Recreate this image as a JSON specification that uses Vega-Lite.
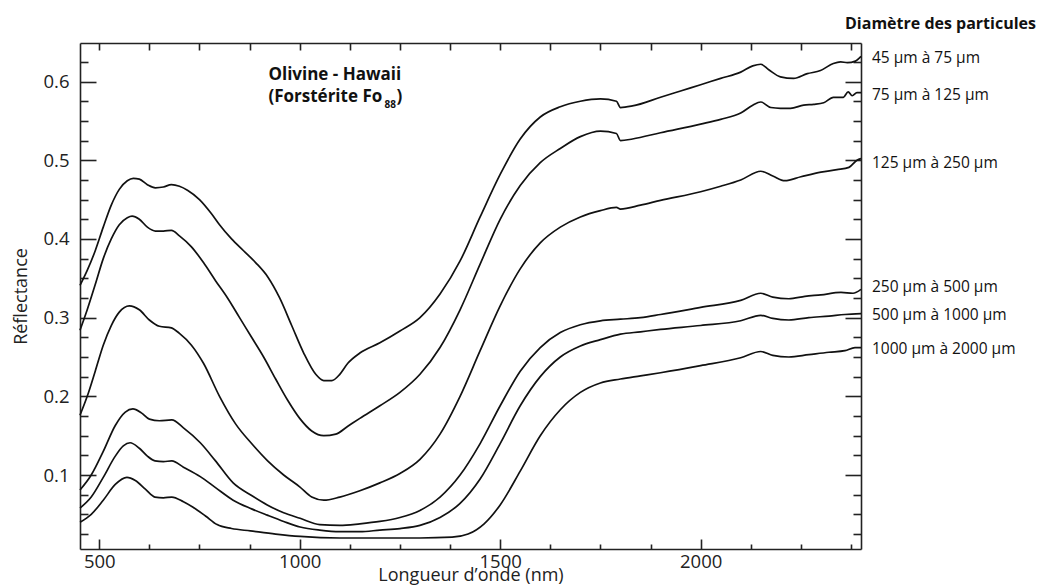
{
  "$schema": "https://vega.github.io/schema/vega-lite/v6.json",
  "autosize": "none",
  "width": 781,
  "height": 506,
  "padding": {"left": 80, "top": 43, "right": 180, "bottom": 39},
  "background": "white",
  "config": {
    "view": {"stroke": null},
    "font": "Open Sans",
    "axis": {"grid": false, "domainColor": "#222", "domainWidth": 1.6, "tickColor": "#222", "tickWidth": 1.6, "labelColor": "#222", "titleColor": "#222", "labelFont": "Open Sans", "titleFont": "Open Sans", "labelFontSize": 18.5, "titleFontSize": 18, "titleFontWeight": "normal"}
  },
  "datasets": {
    "spectra": [
      {"s":"A","nm":452,"r":0.341},{"s":"A","nm":470,"r":0.36},{"s":"A","nm":490,"r":0.385},{"s":"A","nm":510,"r":0.415},{"s":"A","nm":530,"r":0.443},{"s":"A","nm":550,"r":0.463},{"s":"A","nm":570,"r":0.474},{"s":"A","nm":585,"r":0.477},{"s":"A","nm":600,"r":0.476},{"s":"A","nm":620,"r":0.469},{"s":"A","nm":640,"r":0.465},{"s":"A","nm":660,"r":0.466},{"s":"A","nm":680,"r":0.469},{"s":"A","nm":700,"r":0.467},{"s":"A","nm":720,"r":0.462},{"s":"A","nm":750,"r":0.45},{"s":"A","nm":780,"r":0.432},{"s":"A","nm":800,"r":0.418},{"s":"A","nm":830,"r":0.4},{"s":"A","nm":860,"r":0.385},{"s":"A","nm":890,"r":0.37},{"s":"A","nm":920,"r":0.352},{"s":"A","nm":950,"r":0.325},{"s":"A","nm":980,"r":0.29},{"s":"A","nm":1010,"r":0.255},{"s":"A","nm":1040,"r":0.228},{"s":"A","nm":1060,"r":0.22},{"s":"A","nm":1080,"r":0.22},{"s":"A","nm":1100,"r":0.228},{"s":"A","nm":1120,"r":0.242},{"s":"A","nm":1150,"r":0.255},{"s":"A","nm":1200,"r":0.268},{"s":"A","nm":1250,"r":0.283},{"s":"A","nm":1300,"r":0.3},{"s":"A","nm":1350,"r":0.33},{"s":"A","nm":1400,"r":0.372},{"s":"A","nm":1450,"r":0.428},{"s":"A","nm":1500,"r":0.482},{"s":"A","nm":1550,"r":0.527},{"s":"A","nm":1600,"r":0.555},{"s":"A","nm":1650,"r":0.568},{"s":"A","nm":1700,"r":0.575},{"s":"A","nm":1750,"r":0.578},{"s":"A","nm":1790,"r":0.575},{"s":"A","nm":1800,"r":0.567},{"s":"A","nm":1830,"r":0.569},{"s":"A","nm":1900,"r":0.58},{"s":"A","nm":1950,"r":0.588},{"s":"A","nm":2000,"r":0.596},{"s":"A","nm":2050,"r":0.604},{"s":"A","nm":2100,"r":0.612},{"s":"A","nm":2130,"r":0.62},{"s":"A","nm":2150,"r":0.622},{"s":"A","nm":2170,"r":0.615},{"s":"A","nm":2199,"r":0.606},{"s":"A","nm":2232,"r":0.604},{"s":"A","nm":2266,"r":0.61},{"s":"A","nm":2299,"r":0.614},{"s":"A","nm":2331,"r":0.623},{"s":"A","nm":2349,"r":0.625},{"s":"A","nm":2366,"r":0.624},{"s":"A","nm":2386,"r":0.626},{"s":"A","nm":2400,"r":0.632},

      {"s":"B","nm":452,"r":0.284},{"s":"B","nm":470,"r":0.31},{"s":"B","nm":490,"r":0.342},{"s":"B","nm":510,"r":0.375},{"s":"B","nm":530,"r":0.4},{"s":"B","nm":550,"r":0.418},{"s":"B","nm":570,"r":0.427},{"s":"B","nm":582,"r":0.429},{"s":"B","nm":600,"r":0.425},{"s":"B","nm":620,"r":0.415},{"s":"B","nm":640,"r":0.41},{"s":"B","nm":660,"r":0.41},{"s":"B","nm":680,"r":0.411},{"s":"B","nm":700,"r":0.404},{"s":"B","nm":730,"r":0.39},{"s":"B","nm":760,"r":0.37},{"s":"B","nm":790,"r":0.347},{"s":"B","nm":820,"r":0.325},{"s":"B","nm":850,"r":0.3},{"s":"B","nm":880,"r":0.275},{"s":"B","nm":910,"r":0.25},{"s":"B","nm":940,"r":0.222},{"s":"B","nm":970,"r":0.195},{"s":"B","nm":1000,"r":0.172},{"s":"B","nm":1030,"r":0.156},{"s":"B","nm":1060,"r":0.15},{"s":"B","nm":1090,"r":0.152},{"s":"B","nm":1120,"r":0.162},{"s":"B","nm":1150,"r":0.172},{"s":"B","nm":1200,"r":0.188},{"s":"B","nm":1250,"r":0.205},{"s":"B","nm":1300,"r":0.228},{"s":"B","nm":1350,"r":0.262},{"s":"B","nm":1400,"r":0.31},{"s":"B","nm":1450,"r":0.368},{"s":"B","nm":1500,"r":0.425},{"s":"B","nm":1550,"r":0.468},{"s":"B","nm":1600,"r":0.497},{"s":"B","nm":1650,"r":0.515},{"s":"B","nm":1700,"r":0.53},{"s":"B","nm":1750,"r":0.537},{"s":"B","nm":1790,"r":0.534},{"s":"B","nm":1800,"r":0.525},{"s":"B","nm":1830,"r":0.527},{"s":"B","nm":1900,"r":0.535},{"s":"B","nm":2000,"r":0.546},{"s":"B","nm":2050,"r":0.552},{"s":"B","nm":2100,"r":0.56},{"s":"B","nm":2130,"r":0.57},{"s":"B","nm":2150,"r":0.574},{"s":"B","nm":2175,"r":0.567},{"s":"B","nm":2199,"r":0.566},{"s":"B","nm":2224,"r":0.566},{"s":"B","nm":2257,"r":0.57},{"s":"B","nm":2282,"r":0.571},{"s":"B","nm":2307,"r":0.573},{"s":"B","nm":2331,"r":0.58},{"s":"B","nm":2356,"r":0.58},{"s":"B","nm":2368,"r":0.587},{"s":"B","nm":2378,"r":0.582},{"s":"B","nm":2390,"r":0.586},{"s":"B","nm":2400,"r":0.586},

      {"s":"C","nm":452,"r":0.176},{"s":"C","nm":470,"r":0.2},{"s":"C","nm":490,"r":0.232},{"s":"C","nm":510,"r":0.265},{"s":"C","nm":530,"r":0.29},{"s":"C","nm":550,"r":0.307},{"s":"C","nm":575,"r":0.315},{"s":"C","nm":600,"r":0.31},{"s":"C","nm":625,"r":0.297},{"s":"C","nm":650,"r":0.289},{"s":"C","nm":680,"r":0.287},{"s":"C","nm":700,"r":0.28},{"s":"C","nm":730,"r":0.265},{"s":"C","nm":760,"r":0.242},{"s":"C","nm":800,"r":0.2},{"s":"C","nm":840,"r":0.165},{"s":"C","nm":880,"r":0.14},{"s":"C","nm":920,"r":0.118},{"s":"C","nm":960,"r":0.1},{"s":"C","nm":1000,"r":0.085},{"s":"C","nm":1030,"r":0.072},{"s":"C","nm":1060,"r":0.068},{"s":"C","nm":1100,"r":0.072},{"s":"C","nm":1150,"r":0.08},{"s":"C","nm":1200,"r":0.09},{"s":"C","nm":1250,"r":0.102},{"s":"C","nm":1300,"r":0.12},{"s":"C","nm":1350,"r":0.152},{"s":"C","nm":1400,"r":0.2},{"s":"C","nm":1450,"r":0.258},{"s":"C","nm":1500,"r":0.315},{"s":"C","nm":1550,"r":0.362},{"s":"C","nm":1600,"r":0.395},{"s":"C","nm":1650,"r":0.415},{"s":"C","nm":1700,"r":0.428},{"s":"C","nm":1750,"r":0.436},{"s":"C","nm":1790,"r":0.44},{"s":"C","nm":1800,"r":0.438},{"s":"C","nm":1850,"r":0.443},{"s":"C","nm":1900,"r":0.449},{"s":"C","nm":2000,"r":0.46},{"s":"C","nm":2050,"r":0.467},{"s":"C","nm":2100,"r":0.475},{"s":"C","nm":2150,"r":0.486},{"s":"C","nm":2180,"r":0.48},{"s":"C","nm":2210,"r":0.474},{"s":"C","nm":2250,"r":0.479},{"s":"C","nm":2300,"r":0.485},{"s":"C","nm":2340,"r":0.488},{"s":"C","nm":2370,"r":0.491},{"s":"C","nm":2390,"r":0.5},{"s":"C","nm":2400,"r":0.502},

      {"s":"D","nm":452,"r":0.081},{"s":"D","nm":480,"r":0.1},{"s":"D","nm":510,"r":0.13},{"s":"D","nm":540,"r":0.163},{"s":"D","nm":565,"r":0.18},{"s":"D","nm":584,"r":0.184},{"s":"D","nm":605,"r":0.179},{"s":"D","nm":625,"r":0.171},{"s":"D","nm":650,"r":0.169},{"s":"D","nm":681,"r":0.17},{"s":"D","nm":710,"r":0.16},{"s":"D","nm":752,"r":0.141},{"s":"D","nm":790,"r":0.118},{"s":"D","nm":834,"r":0.09},{"s":"D","nm":880,"r":0.074},{"s":"D","nm":919,"r":0.062},{"s":"D","nm":960,"r":0.052},{"s":"D","nm":1001,"r":0.045},{"s":"D","nm":1050,"r":0.037},{"s":"D","nm":1100,"r":0.036},{"s":"D","nm":1150,"r":0.038},{"s":"D","nm":1200,"r":0.041},{"s":"D","nm":1250,"r":0.046},{"s":"D","nm":1300,"r":0.055},{"s":"D","nm":1350,"r":0.072},{"s":"D","nm":1400,"r":0.1},{"s":"D","nm":1450,"r":0.14},{"s":"D","nm":1500,"r":0.188},{"s":"D","nm":1550,"r":0.232},{"s":"D","nm":1600,"r":0.262},{"s":"D","nm":1650,"r":0.281},{"s":"D","nm":1700,"r":0.291},{"s":"D","nm":1750,"r":0.296},{"s":"D","nm":1800,"r":0.298},{"s":"D","nm":1850,"r":0.3},{"s":"D","nm":1900,"r":0.304},{"s":"D","nm":2000,"r":0.313},{"s":"D","nm":2100,"r":0.322},{"s":"D","nm":2150,"r":0.331},{"s":"D","nm":2180,"r":0.326},{"s":"D","nm":2220,"r":0.324},{"s":"D","nm":2260,"r":0.327},{"s":"D","nm":2300,"r":0.329},{"s":"D","nm":2350,"r":0.332},{"s":"D","nm":2380,"r":0.331},{"s":"D","nm":2400,"r":0.336},

      {"s":"E","nm":452,"r":0.058},{"s":"E","nm":480,"r":0.072},{"s":"E","nm":510,"r":0.097},{"s":"E","nm":540,"r":0.124},{"s":"E","nm":560,"r":0.137},{"s":"E","nm":577,"r":0.141},{"s":"E","nm":600,"r":0.134},{"s":"E","nm":620,"r":0.124},{"s":"E","nm":639,"r":0.118},{"s":"E","nm":660,"r":0.117},{"s":"E","nm":681,"r":0.118},{"s":"E","nm":710,"r":0.11},{"s":"E","nm":752,"r":0.098},{"s":"E","nm":790,"r":0.084},{"s":"E","nm":834,"r":0.068},{"s":"E","nm":880,"r":0.057},{"s":"E","nm":919,"r":0.049},{"s":"E","nm":960,"r":0.041},{"s":"E","nm":1001,"r":0.034},{"s":"E","nm":1050,"r":0.03},{"s":"E","nm":1100,"r":0.028},{"s":"E","nm":1150,"r":0.028},{"s":"E","nm":1200,"r":0.03},{"s":"E","nm":1250,"r":0.032},{"s":"E","nm":1300,"r":0.036},{"s":"E","nm":1350,"r":0.046},{"s":"E","nm":1400,"r":0.064},{"s":"E","nm":1450,"r":0.095},{"s":"E","nm":1500,"r":0.14},{"s":"E","nm":1550,"r":0.188},{"s":"E","nm":1600,"r":0.225},{"s":"E","nm":1650,"r":0.25},{"s":"E","nm":1700,"r":0.264},{"s":"E","nm":1750,"r":0.272},{"s":"E","nm":1800,"r":0.279},{"s":"E","nm":1850,"r":0.282},{"s":"E","nm":1900,"r":0.285},{"s":"E","nm":2000,"r":0.29},{"s":"E","nm":2100,"r":0.296},{"s":"E","nm":2150,"r":0.303},{"s":"E","nm":2180,"r":0.299},{"s":"E","nm":2220,"r":0.297},{"s":"E","nm":2270,"r":0.3},{"s":"E","nm":2320,"r":0.302},{"s":"E","nm":2360,"r":0.304},{"s":"E","nm":2400,"r":0.305},

      {"s":"F","nm":452,"r":0.04},{"s":"F","nm":480,"r":0.05},{"s":"F","nm":510,"r":0.068},{"s":"F","nm":540,"r":0.088},{"s":"F","nm":569,"r":0.097},{"s":"F","nm":590,"r":0.093},{"s":"F","nm":615,"r":0.082},{"s":"F","nm":639,"r":0.072},{"s":"F","nm":660,"r":0.071},{"s":"F","nm":681,"r":0.072},{"s":"F","nm":710,"r":0.066},{"s":"F","nm":734,"r":0.059},{"s":"F","nm":765,"r":0.048},{"s":"F","nm":794,"r":0.037},{"s":"F","nm":830,"r":0.032},{"s":"F","nm":877,"r":0.029},{"s":"F","nm":940,"r":0.025},{"s":"F","nm":1001,"r":0.022},{"s":"F","nm":1100,"r":0.02},{"s":"F","nm":1200,"r":0.02},{"s":"F","nm":1300,"r":0.02},{"s":"F","nm":1380,"r":0.021},{"s":"F","nm":1420,"r":0.025},{"s":"F","nm":1460,"r":0.038},{"s":"F","nm":1500,"r":0.062},{"s":"F","nm":1550,"r":0.105},{"s":"F","nm":1600,"r":0.15},{"s":"F","nm":1650,"r":0.183},{"s":"F","nm":1700,"r":0.205},{"s":"F","nm":1750,"r":0.217},{"s":"F","nm":1800,"r":0.222},{"s":"F","nm":1850,"r":0.226},{"s":"F","nm":1900,"r":0.23},{"s":"F","nm":2000,"r":0.239},{"s":"F","nm":2100,"r":0.249},{"s":"F","nm":2150,"r":0.257},{"s":"F","nm":2180,"r":0.252},{"s":"F","nm":2220,"r":0.25},{"s":"F","nm":2270,"r":0.253},{"s":"F","nm":2320,"r":0.256},{"s":"F","nm":2360,"r":0.258},{"s":"F","nm":2385,"r":0.262},{"s":"F","nm":2400,"r":0.262}
    ],
    "labels": [
      {"nm": 2400, "r": 0.6298, "t": "45 µm à 75 µm"},
      {"nm": 2400, "r": 0.5835, "t": "75 µm à 125 µm"},
      {"nm": 2400, "r": 0.496, "t": "125 µm à 250 µm"},
      {"nm": 2400, "r": 0.3386, "t": "250 µm à 500 µm"},
      {"nm": 2400, "r": 0.303, "t": "500 µm à 1000 µm"},
      {"nm": 2400, "r": 0.26, "t": "1000 µm à 2000 µm"}
    ]
  },
  "resolve": {"scale": {"x": "shared", "y": "shared"}, "axis": {"x": "independent", "y": "independent"}},
  "layer": [
    {
      "data": {"name": "spectra"},
      "mark": {"type": "line", "color": "#111", "strokeWidth": 1.7, "interpolate": "monotone"},
      "encoding": {
        "x": {"field": "nm", "type": "quantitative", "scale": {"domain": [452, 2400], "nice": false, "zero": false},
              "axis": {"orient": "bottom", "values": [500, 1000, 1500, 2000], "tickSize": -10, "labelPadding": 13, "title": "Longueur d’onde (nm)", "titlePadding": -4, "format": "d"}},
        "y": {"field": "r", "type": "quantitative", "scale": {"domain": [0.006, 0.649], "nice": false, "zero": false},
              "axis": {"orient": "left", "values": [0.1, 0.2, 0.3, 0.4, 0.5, 0.6], "tickSize": -16, "labelPadding": 27, "title": "Réflectance", "titlePadding": 12, "format": ".1f"}},
        "detail": {"field": "s", "type": "nominal"}
      }
    },
    {
      "data": {"name": "labels"},
      "mark": {"type": "text", "align": "left", "baseline": "middle", "dx": 11, "fontSize": 15.5, "font": "Open Sans", "color": "#111"},
      "encoding": {
        "x": {"field": "nm", "type": "quantitative", "scale": {"domain": [452, 2400], "nice": false, "zero": false},
              "axis": {"orient": "bottom", "values": [625, 750, 875, 1125, 1250, 1375, 1625, 1750, 1875, 2125, 2250, 2375], "tickSize": -5, "labels": false, "domain": false, "title": null}},
        "y": {"field": "r", "type": "quantitative", "scale": {"domain": [0.006, 0.649], "nice": false, "zero": false},
              "axis": {"orient": "left", "values": [0.025, 0.05, 0.075, 0.125, 0.15, 0.175, 0.225, 0.25, 0.275, 0.325, 0.35, 0.375, 0.425, 0.45, 0.475, 0.525, 0.55, 0.575, 0.625], "tickSize": -8, "labels": false, "domain": false, "title": null}},
        "text": {"field": "t"}
      }
    },
    {
      "data": {"values": [{"nm": 922, "r": 0.6025, "t": "Olivine - Hawaii"}, {"nm": 922, "r": 0.5746, "t": "(Forstérite Fo"}]},
      "mark": {"type": "text", "align": "left", "baseline": "alphabetic", "fontSize": 17, "fontWeight": "bold", "font": "Open Sans", "color": "#111"},
      "encoding": {
        "x": {"field": "nm", "type": "quantitative", "scale": {"domain": [452, 2400], "nice": false, "zero": false},
              "axis": {"orient": "top", "values": [500, 625, 750, 875, 1000, 1125, 1250, 1375, 1500, 1625, 1750, 1875, 2000, 2125, 2250, 2375], "tickSize": -7, "labels": false, "title": null}},
        "y": {"field": "r", "type": "quantitative", "scale": {"domain": [0.006, 0.649], "nice": false, "zero": false},
              "axis": {"orient": "right", "values": [0.1, 0.2, 0.3, 0.4, 0.5, 0.6], "tickSize": -16, "labels": false, "title": null}},
        "text": {"field": "t"}
      }
    },
    {
      "data": {"values": [{"nm": 922, "r": 0.5746, "t": "88"}]},
      "mark": {"type": "text", "align": "left", "baseline": "alphabetic", "dx": 116, "dy": 6, "fontSize": 10, "fontWeight": "bold", "font": "Open Sans", "color": "#111"},
      "encoding": {
        "x": {"field": "nm", "type": "quantitative", "scale": {"domain": [452, 2400], "nice": false, "zero": false}, "axis": null},
        "y": {"field": "r", "type": "quantitative", "scale": {"domain": [0.006, 0.649], "nice": false, "zero": false},
              "axis": {"orient": "right", "values": [0.025, 0.05, 0.075, 0.125, 0.15, 0.175, 0.225, 0.25, 0.275, 0.325, 0.35, 0.375, 0.425, 0.45, 0.475, 0.525, 0.55, 0.575, 0.625], "tickSize": -8, "labels": false, "domain": false, "title": null}},
        "text": {"field": "t"}
      }
    },
    {
      "data": {"values": [{"nm": 922, "r": 0.5746, "t": ")"}]},
      "mark": {"type": "text", "align": "left", "baseline": "alphabetic", "dx": 128, "fontSize": 17, "fontWeight": "bold", "font": "Open Sans", "color": "#111"},
      "encoding": {
        "x": {"field": "nm", "type": "quantitative", "scale": {"domain": [452, 2400], "nice": false, "zero": false}, "axis": null},
        "y": {"field": "r", "type": "quantitative", "scale": {"domain": [0.006, 0.649], "nice": false, "zero": false}, "axis": null},
        "text": {"field": "t"}
      }
    },
    {
      "data": {"values": [{"nm": 2400, "r": 0.667, "t": "Diamètre des particules"}]},
      "mark": {"type": "text", "align": "left", "baseline": "alphabetic", "dx": -16, "fontSize": 16, "fontWeight": "bold", "font": "Open Sans", "color": "#111"},
      "encoding": {
        "x": {"field": "nm", "type": "quantitative", "scale": {"domain": [452, 2400], "nice": false, "zero": false}, "axis": null},
        "y": {"field": "r", "type": "quantitative", "scale": {"domain": [0.006, 0.649], "nice": false, "zero": false}, "axis": null},
        "text": {"field": "t"}
      }
    }
  ]
}
